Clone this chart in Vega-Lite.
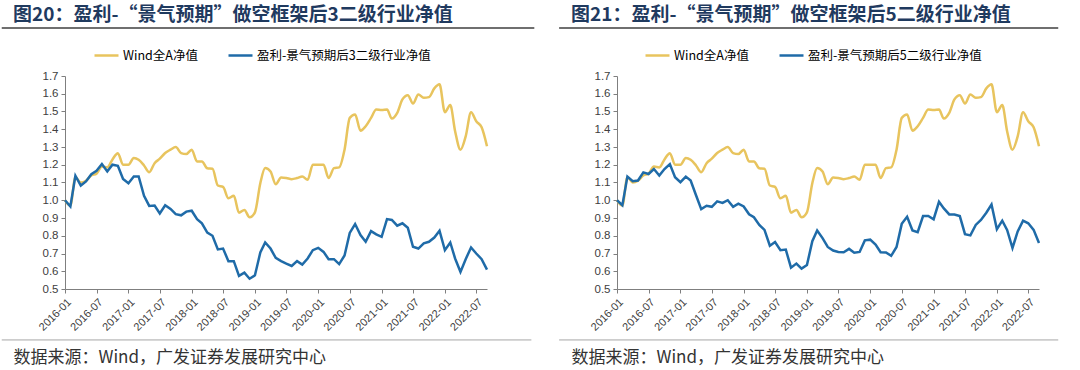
{
"$schema": "https://vega.github.io/schema/vega-lite/v6.json",
"padding": {"top": 6, "left": 0, "right": 0, "bottom": 3},
"spacing": 22,
"background": "white",
"resolve": {"scale": {"color": "independent"}, "legend": {"color": "independent"}},
"config": {
  "view": {"stroke": null},
  "font": "Noto Sans CJK SC",
  "axis": {"grid": false, "domainColor": "#7f7f7f", "tickColor": "#7f7f7f", "tickSize": 4, "labelColor": "#404040", "labelFont": "Liberation Sans", "labelOverlap": false},
  "axisX": {"labelAngle": -45, "labelFontSize": 11, "labelPadding": 3},
  "axisY": {"labelFontSize": 11.5, "labelPadding": 3}
},
"datasets": {
"d": [
{"date":"2016-01","wind":1.0,"p3":1.0,"p5":1.0},
{"date":"2016-02","wind":0.97,"p3":0.965,"p5":0.972},
{"date":"2016-03","wind":1.13,"p3":1.138,"p5":1.133},
{"date":"2016-04","wind":1.10,"p3":1.083,"p5":1.107},
{"date":"2016-05","wind":1.11,"p3":1.106,"p5":1.111},
{"date":"2016-06","wind":1.14,"p3":1.147,"p5":1.157},
{"date":"2016-07","wind":1.15,"p3":1.166,"p5":1.148},
{"date":"2016-08","wind":1.19,"p3":1.204,"p5":1.176},
{"date":"2016-09","wind":1.185,"p3":1.162,"p5":1.139},
{"date":"2016-10","wind":1.23,"p3":1.2,"p5":1.176},
{"date":"2016-11","wind":1.265,"p3":1.194,"p5":1.204},
{"date":"2016-12","wind":1.2,"p3":1.12,"p5":1.13},
{"date":"2017-01","wind":1.2,"p3":1.096,"p5":1.102},
{"date":"2017-02","wind":1.238,"p3":1.134,"p5":1.133},
{"date":"2017-03","wind":1.228,"p3":1.134,"p5":1.111},
{"date":"2017-04","wind":1.196,"p3":1.025,"p5":1.028},
{"date":"2017-05","wind":1.158,"p3":0.968,"p5":0.95},
{"date":"2017-06","wind":1.209,"p3":0.97,"p5":0.969},
{"date":"2017-07","wind":1.234,"p3":0.926,"p5":0.963},
{"date":"2017-08","wind":1.266,"p3":0.972,"p5":0.994},
{"date":"2017-09","wind":1.285,"p3":0.951,"p5":0.985},
{"date":"2017-10","wind":1.3,"p3":0.922,"p5":1.0},
{"date":"2017-11","wind":1.266,"p3":0.915,"p5":0.963},
{"date":"2017-12","wind":1.26,"p3":0.936,"p5":0.981},
{"date":"2018-01","wind":1.285,"p3":0.941,"p5":0.965},
{"date":"2018-02","wind":1.219,"p3":0.894,"p5":0.921},
{"date":"2018-03","wind":1.219,"p3":0.87,"p5":0.904},
{"date":"2018-04","wind":1.18,"p3":0.818,"p5":0.861},
{"date":"2018-05","wind":1.177,"p3":0.8,"p5":0.833},
{"date":"2018-06","wind":1.083,"p3":0.723,"p5":0.744},
{"date":"2018-07","wind":1.075,"p3":0.728,"p5":0.765},
{"date":"2018-08","wind":1.011,"p3":0.657,"p5":0.719},
{"date":"2018-09","wind":1.025,"p3":0.657,"p5":0.722},
{"date":"2018-10","wind":0.93,"p3":0.574,"p5":0.62},
{"date":"2018-11","wind":0.945,"p3":0.592,"p5":0.643},
{"date":"2018-12","wind":0.904,"p3":0.558,"p5":0.615},
{"date":"2019-01","wind":0.932,"p3":0.577,"p5":0.635},
{"date":"2019-02","wind":1.096,"p3":0.706,"p5":0.769},
{"date":"2019-03","wind":1.181,"p3":0.762,"p5":0.83},
{"date":"2019-04","wind":1.162,"p3":0.728,"p5":0.787},
{"date":"2019-05","wind":1.09,"p3":0.675,"p5":0.737},
{"date":"2019-06","wind":1.128,"p3":0.657,"p5":0.717},
{"date":"2019-07","wind":1.125,"p3":0.643,"p5":0.709},
{"date":"2019-08","wind":1.119,"p3":0.63,"p5":0.707},
{"date":"2019-09","wind":1.125,"p3":0.657,"p5":0.726},
{"date":"2019-10","wind":1.134,"p3":0.638,"p5":0.704},
{"date":"2019-11","wind":1.115,"p3":0.672,"p5":0.709},
{"date":"2019-12","wind":1.2,"p3":0.719,"p5":0.774},
{"date":"2020-01","wind":1.2,"p3":0.732,"p5":0.778},
{"date":"2020-02","wind":1.2,"p3":0.709,"p5":0.75},
{"date":"2020-03","wind":1.125,"p3":0.668,"p5":0.707},
{"date":"2020-04","wind":1.181,"p3":0.668,"p5":0.706},
{"date":"2020-05","wind":1.185,"p3":0.64,"p5":0.687},
{"date":"2020-06","wind":1.285,"p3":0.689,"p5":0.737},
{"date":"2020-07","wind":1.464,"p3":0.816,"p5":0.867},
{"date":"2020-08","wind":1.483,"p3":0.866,"p5":0.907},
{"date":"2020-09","wind":1.392,"p3":0.804,"p5":0.83},
{"date":"2020-10","wind":1.417,"p3":0.766,"p5":0.82},
{"date":"2020-11","wind":1.464,"p3":0.826,"p5":0.911},
{"date":"2020-12","wind":1.511,"p3":0.808,"p5":0.911},
{"date":"2021-01","wind":1.508,"p3":0.794,"p5":0.893},
{"date":"2021-02","wind":1.511,"p3":0.894,"p5":0.991},
{"date":"2021-03","wind":1.46,"p3":0.889,"p5":0.954},
{"date":"2021-04","wind":1.492,"p3":0.857,"p5":0.92},
{"date":"2021-05","wind":1.568,"p3":0.87,"p5":0.92},
{"date":"2021-06","wind":1.592,"p3":0.845,"p5":0.911},
{"date":"2021-07","wind":1.545,"p3":0.738,"p5":0.809},
{"date":"2021-08","wind":1.596,"p3":0.728,"p5":0.802},
{"date":"2021-09","wind":1.577,"p3":0.757,"p5":0.861},
{"date":"2021-10","wind":1.581,"p3":0.766,"p5":0.889},
{"date":"2021-11","wind":1.63,"p3":0.79,"p5":0.93},
{"date":"2021-12","wind":1.653,"p3":0.828,"p5":0.976},
{"date":"2022-01","wind":1.496,"p3":0.719,"p5":0.837},
{"date":"2022-02","wind":1.536,"p3":0.762,"p5":0.885},
{"date":"2022-03","wind":1.389,"p3":0.672,"p5":0.833},
{"date":"2022-04","wind":1.285,"p3":0.596,"p5":0.731},
{"date":"2022-05","wind":1.36,"p3":0.668,"p5":0.824},
{"date":"2022-06","wind":1.496,"p3":0.734,"p5":0.885},
{"date":"2022-07","wind":1.445,"p3":0.7,"p5":0.87},
{"date":"2022-08","wind":1.411,"p3":0.668,"p5":0.833},
{"date":"2022-09","wind":1.304,"p3":0.609,"p5":0.759}
]
},
"hconcat": [
{
  "width": 422,
  "height": 213,
  "title": {"text": "图20：盈利-“景气预期”做空框架后3二级行业净值", "anchor": "start", "frame": "group", "dx": -52, "offset": 2, "fontSize": 19, "font": "Noto Sans CJK SC", "fontWeight": "bold", "color": "#1F3A5F"},
  "layer": [
    {
      "data": {"name": "d"},
      "mark": {"type": "line", "strokeWidth": 2.5, "interpolate": "monotone"},
      "encoding": {
        "x": {"field": "date", "type": "temporal",
              "scale": {"type": "utc", "domain": [{"year": 2016, "month": 1, "date": 1, "utc": true}, {"year": 2022, "month": 9, "date": 1, "utc": true}], "nice": false},
              "axis": {"labelExpr": "utcFormat(datum.value, '%Y-%m')", "labelAngle": -45, "labelFontSize": 11, "labelOverlap": false,
                       "tickCount": {"interval": "month", "step": 6},
                       "title": "数据来源：Wind，广发证券发展研究中心", "titleAnchor": "start", "titleAlign": "left", "titleX": -52, "titleY": 68, "titleBaseline": "middle", "titleFontSize": 17, "titleFontWeight": "normal", "titleColor": "#333333", "titleFont": "Noto Sans CJK SC"}},
        "y": {"field": "wind", "type": "quantitative", "scale": {"domain": [0.5, 1.7], "nice": false, "zero": false},
              "axis": {"title": null, "tickCount": 12, "format": ".1f", "labelFontSize": 11.5, "labelOverlap": false}},
        "color": {"datum": "Wind全A净值", "type": "nominal",
                  "scale": {"domain": ["Wind全A净值", "盈利-景气预期后3二级行业净值"], "range": ["#E8C45E", "#1F6BA8"]},
                  "legend": {"orient": "none", "legendX": 28, "legendY": -34, "direction": "horizontal", "title": null, "symbolType": "stroke", "symbolSize": 576, "symbolStrokeWidth": 2.5, "labelFontSize": 12.5, "labelFont": "Noto Sans CJK SC", "labelColor": "#000000", "columnPadding": 25, "labelOffset": 3, "labelLimit": 400}}
      }
    },
    {
      "data": {"name": "d"},
      "mark": {"type": "line", "strokeWidth": 2.5},
      "encoding": {
        "x": {"field": "date", "type": "temporal"},
        "y": {"field": "p3", "type": "quantitative"},
        "color": {"datum": "盈利-景气预期后3二级行业净值", "type": "nominal"}
      }
    },
    {
      "data": {"values": [{}]},
      "mark": {"type": "rule", "color": "#3F3F3F", "strokeWidth": 1.5},
      "encoding": {
        "x": {"datum": {"year": 2015, "month": 1, "date": 1, "utc": true}, "type": "temporal"},
        "x2": {"datum": {"year": 2023, "month": 6, "date": 1, "utc": true}},
        "y": {"datum": 1.97, "type": "quantitative"}
      }
    },
    {
      "data": {"values": [{}]},
      "mark": {"type": "rule", "color": "#A6A6A6", "strokeWidth": 1},
      "encoding": {
        "x": {"datum": {"year": 2015, "month": 1, "date": 1, "utc": true}, "type": "temporal"},
        "x2": {"datum": {"year": 2023, "month": 5, "date": 15, "utc": true}},
        "y": {"datum": 0.213, "type": "quantitative"}
      }
    }
  ]
},
{
  "width": 422,
  "height": 213,
  "title": {"text": "图21：盈利-“景气预期”做空框架后5二级行业净值", "anchor": "start", "frame": "group", "dx": -46, "offset": 2, "fontSize": 19, "font": "Noto Sans CJK SC", "fontWeight": "bold", "color": "#1F3A5F"},
  "layer": [
    {
      "data": {"name": "d"},
      "mark": {"type": "line", "strokeWidth": 2.5, "interpolate": "monotone"},
      "encoding": {
        "x": {"field": "date", "type": "temporal",
              "scale": {"type": "utc", "domain": [{"year": 2016, "month": 1, "date": 1, "utc": true}, {"year": 2022, "month": 9, "date": 1, "utc": true}], "nice": false},
              "axis": {"labelExpr": "utcFormat(datum.value, '%Y-%m')", "labelAngle": -45, "labelFontSize": 11, "labelOverlap": false,
                       "tickCount": {"interval": "month", "step": 6},
                       "title": "数据来源：Wind，广发证券发展研究中心", "titleAnchor": "start", "titleAlign": "left", "titleX": -46, "titleY": 68, "titleBaseline": "middle", "titleFontSize": 17, "titleFontWeight": "normal", "titleColor": "#333333", "titleFont": "Noto Sans CJK SC"}},
        "y": {"field": "wind", "type": "quantitative", "scale": {"domain": [0.5, 1.7], "nice": false, "zero": false},
              "axis": {"title": null, "tickCount": 12, "format": ".1f", "labelFontSize": 11.5, "labelOverlap": false}},
        "color": {"datum": "Wind全A净值", "type": "nominal",
                  "scale": {"domain": ["Wind全A净值", "盈利-景气预期后5二级行业净值"], "range": ["#E8C45E", "#1F6BA8"]},
                  "legend": {"orient": "none", "legendX": 27, "legendY": -34, "direction": "horizontal", "title": null, "symbolType": "stroke", "symbolSize": 576, "symbolStrokeWidth": 2.5, "labelFontSize": 12.5, "labelFont": "Noto Sans CJK SC", "labelColor": "#000000", "columnPadding": 25, "labelOffset": 3, "labelLimit": 400}}
      }
    },
    {
      "data": {"name": "d"},
      "mark": {"type": "line", "strokeWidth": 2.5},
      "encoding": {
        "x": {"field": "date", "type": "temporal"},
        "y": {"field": "p5", "type": "quantitative"},
        "color": {"datum": "盈利-景气预期后5二级行业净值", "type": "nominal"}
      }
    },
    {
      "data": {"values": [{}]},
      "mark": {"type": "rule", "color": "#3F3F3F", "strokeWidth": 1.5},
      "encoding": {
        "x": {"datum": {"year": 2015, "month": 2, "date": 1, "utc": true}, "type": "temporal"},
        "x2": {"datum": {"year": 2022, "month": 12, "date": 21, "utc": true}},
        "y": {"datum": 1.97, "type": "quantitative"}
      }
    },
    {
      "data": {"values": [{}]},
      "mark": {"type": "rule", "color": "#A6A6A6", "strokeWidth": 1},
      "encoding": {
        "x": {"datum": {"year": 2015, "month": 2, "date": 1, "utc": true}, "type": "temporal"},
        "x2": {"datum": {"year": 2022, "month": 12, "date": 21, "utc": true}},
        "y": {"datum": 0.213, "type": "quantitative"}
      }
    }
  ]
}
]
}
